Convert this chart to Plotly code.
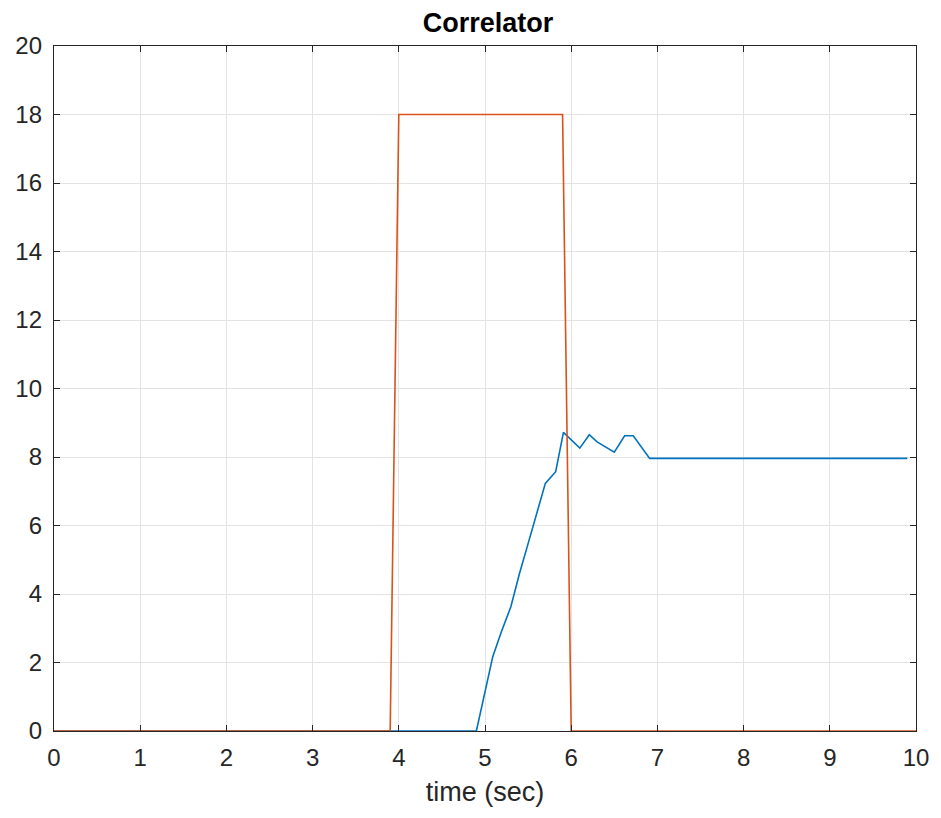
import plotly.graph_objects as go

# Correlator output (blue) and reference pulse (orange)
corr_t = [0.0, 4.9, 5.09, 5.19, 5.30, 5.40, 5.50, 5.59, 5.70, 5.82, 5.91,
          6.10, 6.21, 6.30, 6.50, 6.62, 6.72, 6.91, 9.9]
corr_v = [0.0, 0.0, 2.17, 2.90, 3.63, 4.60, 5.47, 6.25, 7.23, 7.57, 8.72,
          8.26, 8.65, 8.44, 8.14, 8.62, 8.62, 7.96, 7.96]

pulse_t = [0.0, 3.9, 4.0, 5.9, 6.0, 10.0]
pulse_v = [0.0, 0.0, 18.0, 18.0, 0.0, 0.0]

x_ticks = list(range(0, 11))
y_ticks = list(range(0, 21, 2))

BLUE = "#0072BD"
ORANGE = "#D95319"
AXIS = "#262626"
GRID = "#e3e3e3"
FONT = "Liberation Sans, Arial, sans-serif"

fig = go.Figure()
fig.add_trace(go.Scatter(x=corr_t, y=corr_v, mode="lines",
                         line=dict(color=BLUE, width=1.6), showlegend=False))
fig.add_trace(go.Scatter(x=pulse_t, y=pulse_v, mode="lines",
                         line=dict(color=ORANGE, width=1.6), showlegend=False))

axis_common = dict(
    showline=True, linecolor=AXIS, linewidth=1.4, mirror="ticks",
    ticks="inside", ticklen=6, tickwidth=1.2, tickcolor=AXIS,
    showgrid=True, gridcolor=GRID, gridwidth=1, zeroline=False,
    tickfont=dict(family=FONT, size=24, color=AXIS),
)

fig.update_xaxes(range=[0, 10], tickvals=x_ticks, ticklabelstandoff=5,
                 title=dict(text="time (sec)", standoff=12,
                            font=dict(family=FONT, size=27, color=AXIS)),
                 **axis_common)
fig.update_yaxes(range=[0, 20], tickvals=y_ticks, ticklabelstandoff=6,
                 **axis_common)

fig.update_layout(
    width=941, height=818,
    margin=dict(l=54, r=20, t=46, b=87),
    paper_bgcolor="white", plot_bgcolor="white",
    title=dict(text="<b>Correlator</b>", x=0.5185, xanchor="center",
               y=0.973, yanchor="middle", yref="container",
               font=dict(family=FONT, size=27, color="black")),
)

fig.write_html("out.html")
